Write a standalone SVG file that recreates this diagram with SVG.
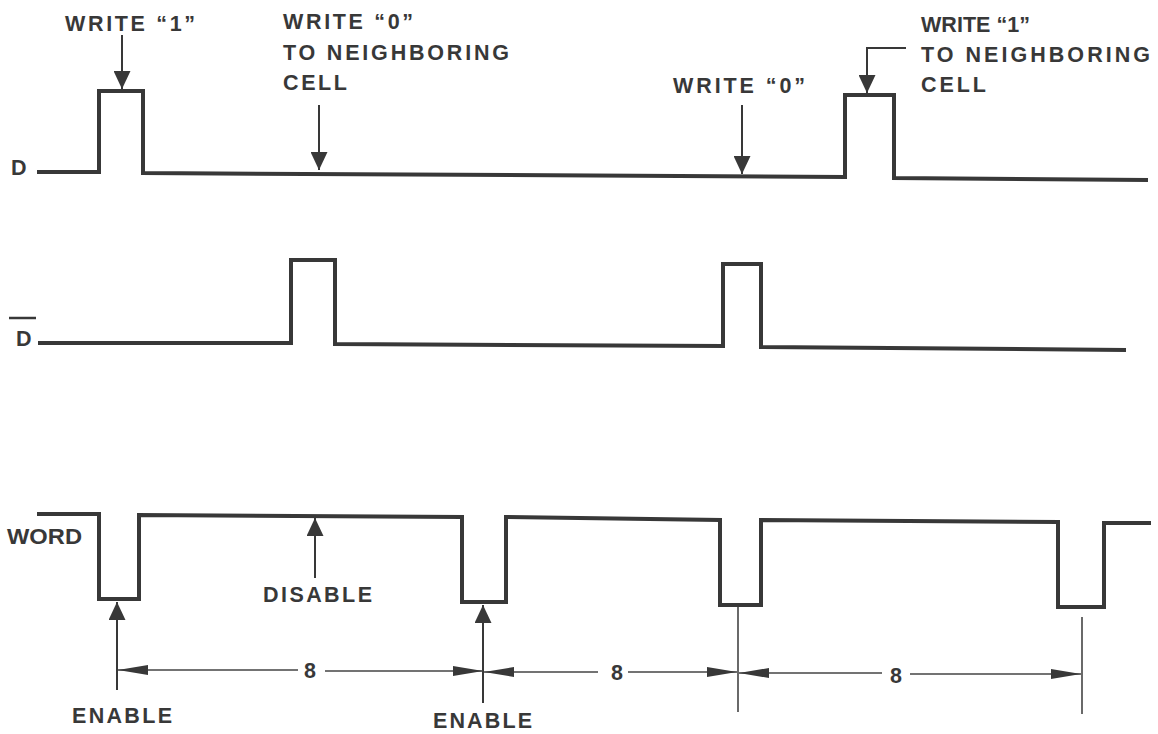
<svg xmlns="http://www.w3.org/2000/svg" width="1158" height="734" viewBox="0 0 1158 734">
<defs>
<style>
.t{font-family:"Liberation Sans",Arial,sans-serif;font-weight:bold;font-size:21.5px;fill:#383838}
.w{fill:none;stroke:#383838;stroke-width:4;stroke-linejoin:miter}
.a{fill:none;stroke:#383838;stroke-width:2}
.d{fill:none;stroke:#444;stroke-width:1.6}
</style>
<marker id="ah" markerUnits="userSpaceOnUse" markerWidth="18" markerHeight="17" refX="18" refY="8.5" orient="auto"><path d="M0,0 L18,8.5 L0,17 z" fill="#383838"/></marker>
<marker id="dh" markerUnits="userSpaceOnUse" markerWidth="30" markerHeight="10" refX="30" refY="5" orient="auto"><path d="M0,0 L30,5 L0,10 z" fill="#383838"/></marker>
</defs>
<rect width="1158" height="734" fill="#fff"/>
<g id="signal-D">
<text class="t" x="11" y="175" font-size="22">D</text>
<path class="w" d="M37,172 L99,172 L99,91 L143,91 L143,173 L845,177 L845,95 L894,95 L894,178 L1148,180"/>
</g>
<g id="signal-Dbar">
<text class="t" x="16" y="346" font-size="22">D</text>
<line x1="9" y1="318" x2="36" y2="318" stroke="#383838" stroke-width="2.5"/>
<path class="w" d="M38,343 L291,343 L291,260 L335,260 L335,344 L723,346 L723,264 L761,264 L761,347 L1126,350"/>
</g>
<g id="signal-WORD">
<text class="t" x="7" y="544" font-size="22" textLength="75" lengthAdjust="spacingAndGlyphs">WORD</text>
<path class="w" d="M37,514 L99,514 L99,599 L139,599 L139,515 L462,517 L462,602 L506,602 L506,517 L720,520 L720,605 L761,605 L761,520 L1058,522 L1058,607 L1104,607 L1104,523 L1151,523"/>
</g>
<g id="label-write1">
<text class="t" x="65" y="31" textLength="130" lengthAdjust="spacing">WRITE “1”</text>
</g>
<g id="label-write0-neighbor">
<text class="t" x="283" y="29" textLength="130" lengthAdjust="spacing">WRITE “0”</text>
<text class="t" x="283" y="60" textLength="226" lengthAdjust="spacing">TO NEIGHBORING</text>
<text class="t" x="283" y="90" textLength="64" lengthAdjust="spacing">CELL</text>
</g>
<g id="label-write0">
<text class="t" x="673" y="93" textLength="132" lengthAdjust="spacing">WRITE “0”</text>
</g>
<g id="label-write1-neighbor">
<text class="t" x="921" y="32" textLength="109" lengthAdjust="spacing">WRITE “1”</text>
<text class="t" x="921" y="62" textLength="229" lengthAdjust="spacing">TO NEIGHBORING</text>
<text class="t" x="921" y="92" textLength="65" lengthAdjust="spacing">CELL</text>
</g>
<g id="label-disable">
<text class="t" x="263" y="602" textLength="109" lengthAdjust="spacing">DISABLE</text>
</g>
<g id="label-enable-1">
<text class="t" x="72" y="723" textLength="100" lengthAdjust="spacing">ENABLE</text>
</g>
<g id="label-enable-2">
<text class="t" x="433" y="728" textLength="99" lengthAdjust="spacing">ENABLE</text>
</g>
<g id="label-8">
<text class="t" x="310" y="678" font-size="22" text-anchor="middle">8</text>
<text class="t" x="617" y="680" font-size="22" text-anchor="middle">8</text>
<text class="t" x="896" y="683" font-size="22" text-anchor="middle">8</text>
</g>
<g id="connectors">
<line class="a" x1="122" y1="35" x2="122" y2="89" marker-end="url(#ah)"/>
<line class="a" x1="319" y1="105" x2="319" y2="170" marker-end="url(#ah)"/>
<line class="a" x1="742" y1="105" x2="742" y2="174" marker-end="url(#ah)"/>
<polyline class="a" points="906,48 867,48 867,93" marker-end="url(#ah)"/>
<line class="a" x1="315" y1="578" x2="315" y2="518" marker-end="url(#ah)"/>
<line class="a" x1="117" y1="690" x2="117" y2="602" marker-end="url(#ah)"/>
<line class="a" x1="483" y1="703" x2="483" y2="605" marker-end="url(#ah)"/>
<line class="d" x1="738" y1="607" x2="738" y2="712"/>
<line class="d" x1="1082" y1="617" x2="1082" y2="714"/>
<line class="d" x1="298" y1="670" x2="118" y2="670" marker-end="url(#dh)"/>
<line class="d" x1="325" y1="671" x2="483" y2="671" marker-end="url(#dh)"/>
<line class="d" x1="598" y1="672" x2="484" y2="672" marker-end="url(#dh)"/>
<line class="d" x1="628" y1="672" x2="737" y2="672" marker-end="url(#dh)"/>
<line class="d" x1="882" y1="673" x2="739" y2="673" marker-end="url(#dh)"/>
<line class="d" x1="910" y1="674" x2="1081" y2="674" marker-end="url(#dh)"/>
</g>
</svg>
